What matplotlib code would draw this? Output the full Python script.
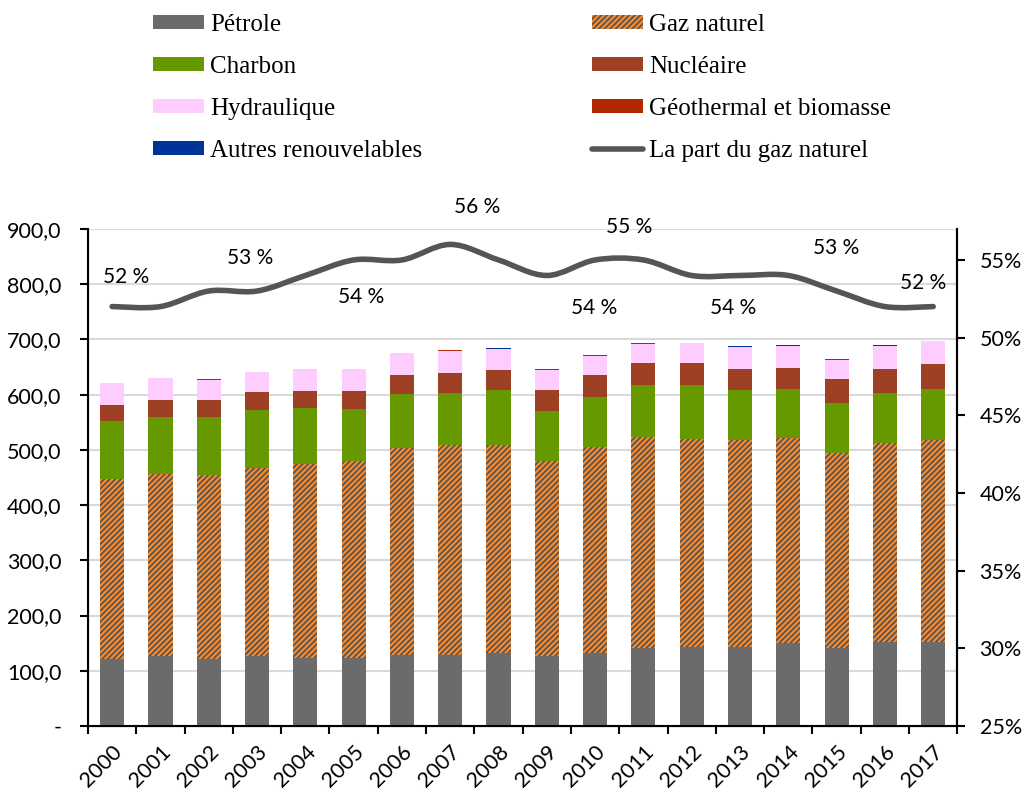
import matplotlib
matplotlib.use("Agg")
import matplotlib.pyplot as plt
from matplotlib.patches import Patch, PathPatch
from matplotlib.lines import Line2D
from matplotlib.path import Path
from matplotlib.ticker import FuncFormatter, MultipleLocator
import numpy as np

plt.rcParams['hatch.linewidth'] = 1.3

years = [str(y) for y in range(2000, 2018)]

# Consommation d'energie primaire par source
petrole = [122, 126, 121, 126, 124, 124, 129, 129, 133, 127, 133, 141, 143, 143, 150, 142, 152, 153]
gaz = [325, 330, 334, 342, 351, 356, 375, 380, 375, 352, 373, 383, 376, 374, 371, 353, 361, 365]
charbon = [106, 104, 104, 104, 100, 94, 97, 94, 101, 92, 90, 94, 99, 91, 89, 89, 90, 92]
nucleaire = [29, 31, 32, 33, 32, 33, 35, 37, 36, 37, 39, 39, 40, 38, 39, 44, 44, 46]
hydraulique = [38.4, 38.3, 36.3, 36.1, 39.0, 38.9, 38.8, 39.6, 37.5, 37.4, 35.1, 35.0, 34.9, 39.7, 38.6, 35.5, 40.4, 40.2]
geothermal = [0.4, 0.5, 0.5, 0.6, 0.6, 0.6, 0.7, 0.7, 0.7, 0.7, 0.8, 0.8, 0.8, 0.8, 0.8, 0.9, 0.9, 0.9]
autres = [0.1, 0.1, 0.1, 0.1, 0.2, 0.2, 0.3, 0.3, 0.4, 0.4, 0.5, 0.5, 0.6, 0.6, 0.7, 0.7, 0.8, 0.8]

part_gaz = [0.52, 0.52, 0.53, 0.53, 0.54, 0.55, 0.55, 0.56, 0.55, 0.54, 0.55, 0.55, 0.54, 0.54, 0.54, 0.53, 0.52, 0.52]

share_labels = ["52 %", "53 %", "54 %", "56 %", "55 %", "54 %", "54 %", "53 %", "52 %"]
# label placement (x in category units, y in share units)
share_label_pos = [(0.3, 0.539), (2.85, 0.551), (5.15, 0.526), (7.55, 0.584), (10.7, 0.571),
                   (9.98, 0.519), (12.85, 0.519), (15.0, 0.558), (16.8, 0.535)]

series = [
    ("Pétrole", petrole, "#6B6B6B", None),
    ("Gaz naturel", gaz, "#FF8A2A", "//////"),
    ("Charbon", charbon, "#669900", None),
    ("Nucléaire", nucleaire, "#9E4023", None),
    ("Hydraulique", hydraulique, "#FFCCFF", None),
    ("Géothermal et biomasse", geothermal, "#B22800", None),
    ("Autres renouvelables", autres, "#003399", None),
]
line_color = "#555555"
tick_font = "Lato"

fig = plt.figure(figsize=(10.35, 7.92), dpi=100)
ax = fig.add_axes([0.085, 0.0833, 0.84, 0.6277])
x = np.arange(len(years))
bottom = np.zeros(len(years))
for name, vals, color, hatch in series:
    if hatch:
        ax.bar(x, vals, 0.5, bottom=bottom, color=color, hatch=hatch,
               edgecolor="#555555", linewidth=0, zorder=2)
    else:
        ax.bar(x, vals, 0.5, bottom=bottom, color=color, linewidth=0, zorder=2)
    bottom += np.array(vals)

ax.set_xlim(-0.5, len(years) - 0.5)
ax.set_ylim(0, 900)
ax.yaxis.set_major_locator(MultipleLocator(100))
ax.yaxis.set_major_formatter(FuncFormatter(
    lambda v, p: "-" if v == 0 else f"{v:.1f}".replace(".", ",")))
ax.grid(axis="y", color="#D9D9D9", linewidth=1.5, zorder=0)
ax.set_axisbelow(True)
ax.set_xticks(np.arange(-0.5, len(years)), labels=[])
ax.set_xticks(x, minor=True)
ax.set_xticklabels(years, minor=True, rotation=45, ha="right", va="top",
                   rotation_mode="anchor", fontsize=15.5, family=tick_font)
ax.tick_params(axis="x", which="major", length=6, width=1.5, direction="out")
ax.tick_params(axis="x", which="minor", length=0, pad=11)
ax.tick_params(axis="y", length=6, width=1.5, direction="out", pad=13, labelsize=15.5)
for lbl in ax.get_yticklabels():
    lbl.set_family(tick_font)
ax.spines["top"].set_visible(False)
for s in ["left", "bottom", "right"]:
    ax.spines[s].set_linewidth(1.5)

ax2 = ax.twinx()
ax2.set_ylim(0.25, 0.57)
ax2.yaxis.set_major_locator(MultipleLocator(0.05))
ax2.yaxis.set_major_formatter(FuncFormatter(lambda v, p: f"{v * 100:.0f}%"))
ax2.tick_params(axis="y", length=6, width=1.5, direction="out", pad=10, labelsize=15.5)
for lbl in ax2.get_yticklabels():
    lbl.set_family(tick_font)
ax2.spines["top"].set_visible(False)
ax2.spines["right"].set_linewidth(1.5)

# smoothed line (Catmull-Rom -> cubic Bezier drawn by matplotlib's Path)
pts = np.column_stack([x, part_gaz]).astype(float)
verts = [tuple(pts[0])]
codes = [Path.MOVETO]
n = len(pts)
for i in range(n - 1):
    p0 = pts[max(i - 1, 0)]
    p1 = pts[i]
    p2 = pts[i + 1]
    p3 = pts[min(i + 2, n - 1)]
    c1 = p1 + (p2 - p0) / 6.0
    c2 = p2 - (p3 - p1) / 6.0
    verts += [tuple(c1), tuple(c2), tuple(p2)]
    codes += [Path.CURVE4] * 3
ax2.add_patch(PathPatch(Path(verts, codes), facecolor="none", edgecolor=line_color,
                        linewidth=4, capstyle="round", zorder=3))

for txt, (lx, ly) in zip(share_labels, share_label_pos):
    ax2.text(lx, ly, txt, ha="center", va="center", fontsize=15, family=tick_font,
             clip_on=False)

handles = []
for name, vals, color, hatch in series:
    if hatch:
        handles.append(Patch(facecolor=color, hatch=hatch, edgecolor="#555555",
                             linewidth=0, label=name))
    else:
        handles.append(Patch(facecolor=color, linewidth=0, label=name))
handles.append(Line2D([], [], color=line_color, linewidth=4, solid_capstyle="round",
                      label="La part du gaz naturel"))
order = [0, 2, 4, 6, 1, 3, 5, 7]
fig.legend([handles[i] for i in order], [handles[i].get_label() for i in order],
           loc="upper left", bbox_to_anchor=(0.138, 0.995), ncol=2, frameon=False,
           prop={"family": "Liberation Serif", "size": 18},
           handlelength=2.05, handleheight=0.48, handletextpad=0.24,
           columnspacing=6.8, labelspacing=0.8, borderaxespad=0, borderpad=0.4)

fig.savefig("out.png", dpi=100)
